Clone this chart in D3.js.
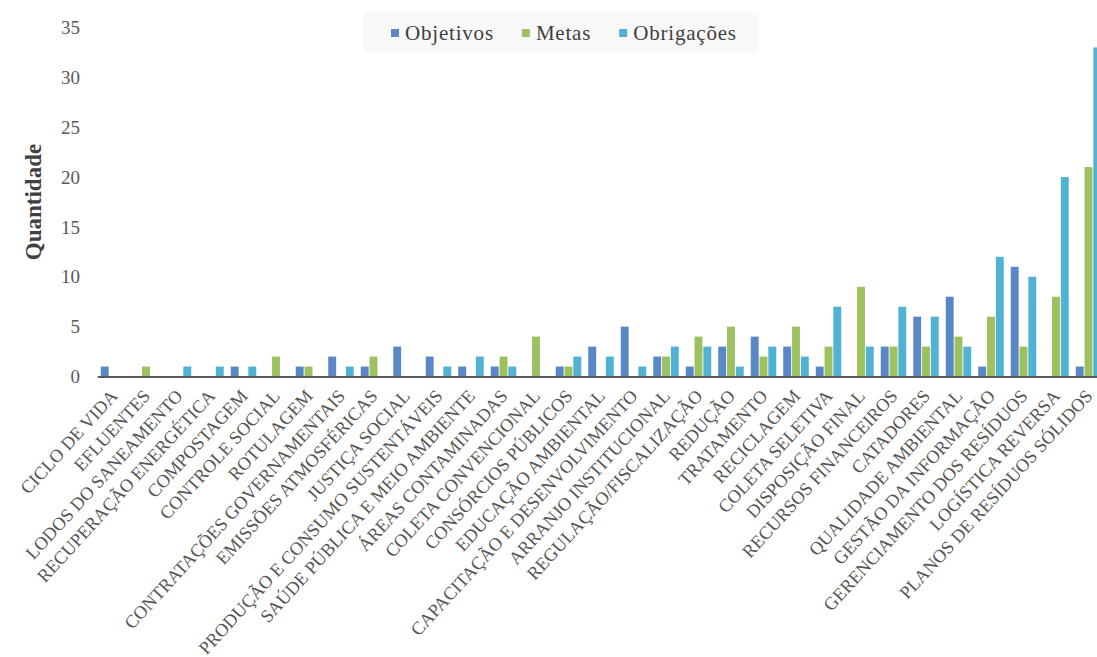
<!DOCTYPE html>
<html>
<head>
<meta charset="utf-8">
<script src="https://cdn.jsdelivr.net/npm/d3@7"></script>
<style>
  body { margin: 0; background: #fff; }
  svg { display: block; }
</style>
</head>
<body>
<div id="chart"></div>
<script>
const categories = [
  "CICLO DE VIDA", "EFLUENTES", "LODOS DO SANEAMENTO", "RECUPERAÇÃO ENERGÉTICA",
  "COMPOSTAGEM", "CONTROLE SOCIAL", "ROTULAGEM", "CONTRATAÇÕES GOVERNAMENTAIS",
  "EMISSÕES ATMOSFÉRICAS", "JUSTIÇA SOCIAL", "PRODUÇÃO E CONSUMO SUSTENTÁVEIS",
  "SAÚDE PÚBLICA E MEIO AMBIENTE", "ÁREAS CONTAMINADAS", "COLETA CONVENCIONAL",
  "CONSÓRCIOS PÚBLICOS", "EDUCAÇÃO AMBIENTAL", "CAPACITAÇÃO E DESENVOLVIMENTO",
  "ARRANJO INSTITUCIONAL", "REGULAÇÃO/FISCALIZAÇÃO", "REDUÇÃO", "TRATAMENTO",
  "RECICLAGEM", "COLETA SELETIVA", "DISPOSIÇÃO FINAL", "RECURSOS FINANCEIROS",
  "CATADORES", "QUALIDADE AMBIENTAL", "GESTÃO DA INFORMAÇÃO",
  "GERENCIAMENTO DOS RESÍDUOS", "LOGÍSTICA REVERSA", "PLANOS DE RESÍDUOS SÓLIDOS"
];

const objetivos   = [1,0,0,0,1,0,1,2,1,3,2,1,1,0,1,3,5,2,1,3,4,3,1,0,3,6,8,1,11,0,1];
const metas       = [0,1,0,0,0,2,1,0,2,0,0,0,2,4,1,0,0,2,4,5,2,5,3,9,3,3,4,6,3,8,21];
const obrigacoes  = [0,0,1,1,1,0,0,1,0,0,1,2,1,0,2,2,1,3,3,1,3,2,7,3,7,6,3,12,10,20,33];

const seriesNames = ["Objetivos", "Metas", "Obrigações"];
const yTicks = [0, 5, 10, 15, 20, 25, 30, 35];

const colors = ["#5a87c6", "#9dc15e", "#52b2d4"];

const width = 1097;
const height = 657;
const margin = { top: 27.5, left: 97, bottom: 280.5 };
const serif = "Liberation Serif, Times New Roman, serif";

const data = categories.map((c, i) => ({
  category: c,
  values: [objetivos[i], metas[i], obrigacoes[i]]
}));

const svg = d3
  .select("#chart")
  .append("svg")
  .attr("width", width)
  .attr("height", height);

const x0 = d3
  .scaleBand()
  .domain(categories)
  .range([margin.left + 0.25, margin.left + 0.25 + categories.length * 32.5])
  .padding(0);

const x1 = d3
  .scaleBand()
  .domain(seriesNames)
  .range([3.5, 29])
  .paddingInner(0.1);

const y = d3
  .scaleLinear()
  .domain([0, 35])
  .range([height - margin.bottom, margin.top]);

// y tick labels (no axis line)
const yAxis = svg
  .append("g")
  .attr("transform", `translate(80, 0)`)
  .call(d3.axisLeft(y).tickValues(yTicks).tickSize(0).tickPadding(0));
yAxis.select(".domain").remove();
yAxis
  .selectAll("text")
  .attr("font-family", serif)
  .attr("font-size", 19)
  .attr("fill", "#595959");

// bars
const groups = svg
  .selectAll(".group")
  .data(data)
  .enter()
  .append("g")
  .attr("class", "group")
  .attr("transform", (d) => `translate(${x0(d.category)}, 0)`);

groups
  .selectAll("rect")
  .data((d) => d.values.map((v, k) => ({ key: seriesNames[k], value: v, k })))
  .enter()
  .filter((d) => d.value > 0)
  .append("rect")
  .attr("x", (d) => x1(d.key))
  .attr("y", (d) => y(d.value))
  .attr("width", x1.bandwidth())
  .attr("height", (d) => y(0) - y(d.value))
  .attr("fill", (d) => colors[d.k]);

// x axis line + rotated labels
const xAxis = svg
  .append("g")
  .attr("transform", `translate(0, ${y(0)})`)
  .call(d3.axisBottom(x0).tickSize(0).tickSizeOuter(0).tickPadding(0));
xAxis
  .select(".domain")
  .attr("stroke", "#595959")
  .attr("stroke-width", 2);
xAxis
  .selectAll("text")
  .attr("font-family", serif)
  .attr("font-size", 18.3)
  .attr("fill", "#555")
  .attr("text-anchor", "end")
  .attr("dy", "0.75em")
  .attr("transform", "translate(-5, 11) rotate(-47.5)");

// y axis title
svg
  .append("text")
  .attr("transform", `translate(41, 202) rotate(-90)`)
  .attr("text-anchor", "middle")
  .attr("font-family", serif)
  .attr("font-weight", "bold")
  .attr("font-size", 23)
  .attr("fill", "#404040")
  .text("Quantidade");

// legend
const legend = svg.append("g");
legend
  .append("rect")
  .attr("x", 363)
  .attr("y", 13)
  .attr("width", 395)
  .attr("height", 39)
  .attr("fill", "#f8f8f8");

let lx = 391;
seriesNames.forEach((name, k) => {
  legend
    .append("rect")
    .attr("x", lx)
    .attr("y", 29)
    .attr("width", 8)
    .attr("height", 8)
    .attr("fill", colors[k]);
  const t = legend
    .append("text")
    .attr("x", lx + 14)
    .attr("y", 40)
    .attr("font-family", serif)
    .attr("font-size", 21)
    .attr("letter-spacing", 0.8)
    .attr("fill", "#404040")
    .text(name);
  lx += 14 + t.node().getComputedTextLength() + 28;
});
</script>
</body>
</html>
